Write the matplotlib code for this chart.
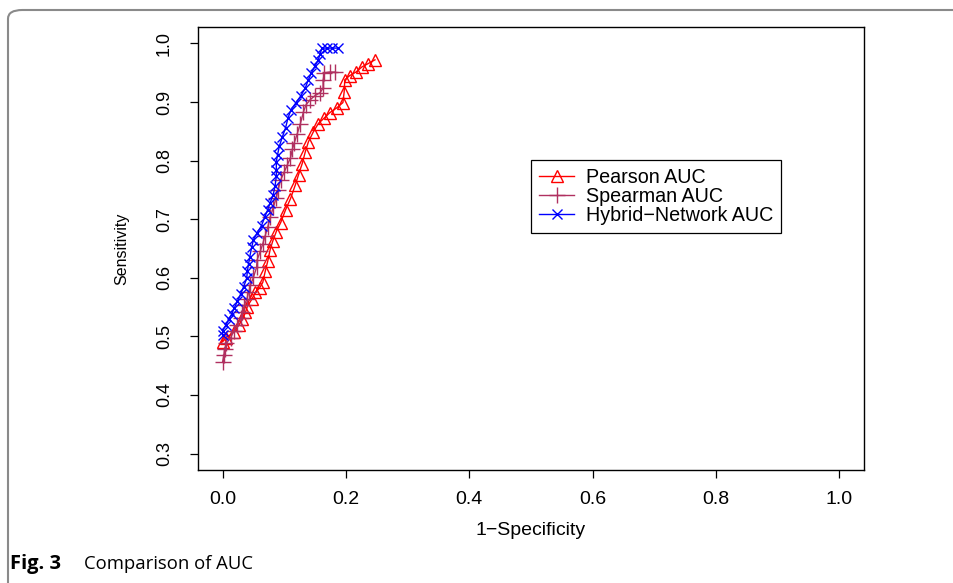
import matplotlib
matplotlib.use("Agg")
import matplotlib.pyplot as plt
from matplotlib.patches import FancyBboxPatch

# ROC points (1-specificity, sensitivity)
pearson_fpr = [0.0, 0.006, 0.018, 0.026, 0.032, 0.037, 0.040, 0.047, 0.053, 0.060,
               0.065, 0.069, 0.073, 0.077, 0.081, 0.087, 0.094, 0.102, 0.110, 0.118,
               0.123, 0.129, 0.134, 0.139, 0.147, 0.155, 0.165, 0.174, 0.185, 0.195,
               0.197, 0.198, 0.206, 0.216, 0.226, 0.235, 0.247]
pearson_tpr = [0.491, 0.498, 0.507, 0.519, 0.529, 0.541, 0.551, 0.563, 0.575, 0.583,
               0.592, 0.611, 0.628, 0.648, 0.662, 0.679, 0.694, 0.716, 0.735, 0.759,
               0.776, 0.795, 0.815, 0.832, 0.849, 0.863, 0.873, 0.882, 0.890, 0.899,
               0.917, 0.938, 0.945, 0.951, 0.960, 0.965, 0.972]

spearman_fpr = [0.0, 0.002, 0.003, 0.006, 0.013, 0.018, 0.024, 0.029, 0.032, 0.035,
                0.039, 0.042, 0.045, 0.050, 0.055, 0.056, 0.061, 0.065, 0.069, 0.073,
                0.077, 0.082, 0.087, 0.090, 0.094, 0.100, 0.105, 0.110, 0.113, 0.116,
                0.121, 0.126, 0.131, 0.135, 0.142, 0.150, 0.158, 0.163, 0.163, 0.165,
                0.174, 0.182]
spearman_tpr = [0.457, 0.468, 0.478, 0.488, 0.498, 0.509, 0.519, 0.531, 0.541, 0.553,
                0.563, 0.575, 0.587, 0.601, 0.618, 0.631, 0.645, 0.658, 0.672, 0.686,
                0.703, 0.720, 0.737, 0.750, 0.767, 0.781, 0.793, 0.805, 0.819, 0.830,
                0.846, 0.863, 0.883, 0.895, 0.904, 0.911, 0.916, 0.924, 0.938, 0.950,
                0.951, 0.951]

hybrid_fpr = [0.0, 0.0, 0.005, 0.010, 0.015, 0.019, 0.024, 0.029, 0.034, 0.039,
              0.040, 0.042, 0.044, 0.047, 0.050, 0.056, 0.063, 0.068, 0.073, 0.077,
              0.082, 0.085, 0.087, 0.087, 0.087, 0.089, 0.092, 0.097, 0.102, 0.106,
              0.111, 0.119, 0.127, 0.134, 0.139, 0.144, 0.150, 0.155, 0.158, 0.161,
              0.169, 0.177, 0.187]
hybrid_tpr = [0.502, 0.510, 0.519, 0.529, 0.539, 0.549, 0.560, 0.572, 0.585, 0.599,
              0.611, 0.624, 0.636, 0.652, 0.665, 0.677, 0.689, 0.703, 0.716, 0.728,
              0.742, 0.757, 0.773, 0.784, 0.798, 0.810, 0.825, 0.841, 0.856, 0.873,
              0.887, 0.899, 0.911, 0.924, 0.938, 0.950, 0.962, 0.972, 0.982, 0.992,
              0.992, 0.992, 0.992]

x_ticks = [0.0, 0.2, 0.4, 0.6, 0.8, 1.0]
y_ticks = [0.3, 0.4, 0.5, 0.6, 0.7, 0.8, 0.9, 1.0]

plt.rcParams["font.family"] = ["Liberation Sans", "DejaVu Sans"]

fig = plt.figure(figsize=(9.54, 5.83), dpi=100)
ax = fig.add_axes([198 / 954, 113 / 583, 666 / 954, 443 / 583])

ax.plot(pearson_fpr, pearson_tpr, color="red", lw=1, marker="^", ms=9,
        mfc="none", mec="red", mew=1, label="Pearson AUC")
ax.plot(spearman_fpr, spearman_tpr, color="#B03060", lw=1, marker="+", ms=11,
        mew=1, label="Spearman AUC")
ax.plot(hybrid_fpr, hybrid_tpr, color="blue", lw=1, marker="x", ms=7,
        mew=1, label="Hybrid\u2212Network AUC")

ax.set_xlim(-0.04, 1.04)
ax.set_ylim(0.272, 1.028)
ax.set_xticks(x_ticks)
ax.set_xticklabels(["%.1f" % v for v in x_ticks], fontsize=14)
ax.set_yticks(y_ticks)
ax.set_yticklabels(["%.1f" % v for v in y_ticks], rotation=90, va="center",
                   fontsize=13)
ax.tick_params(direction="out", length=6, width=0.9)
ax.tick_params(axis="x", pad=9)
ax.tick_params(axis="y", pad=12)
for s in ax.spines.values():
    s.set_linewidth(1)

ax.set_xlabel("1\u2212Specificity", fontsize=14, labelpad=10)
ax.set_ylabel("Sensitivity", fontsize=11.5, labelpad=19)

leg = ax.legend(loc="upper left", bbox_to_anchor=(531 / 954, 1 - 160 / 583),
                bbox_transform=fig.transFigure, fontsize=14.2, fancybox=False,
                edgecolor="black", framealpha=1, handlelength=1.8,
                borderpad=0.4, labelspacing=0.0, handletextpad=0.6,
                borderaxespad=0)
leg.get_frame().set_linewidth(0.9)

# outer panel frame with rounded corner
frame = FancyBboxPatch((8 / 954, -0.2), 1.2, 0.2 + (583 - 10) / 583,
                       boxstyle="round,pad=0,rounding_size=0.015",
                       transform=fig.transFigure, fill=False,
                       edgecolor="#8a8a8a", lw=1.5, clip_on=False)
fig.patches.append(frame)

fig.text(10 / 954, 1 - 564 / 583, "Fig. 3", fontsize=14.5, fontweight="bold",
         family="Open Sans", va="center")
fig.text(84 / 954, 1 - 564 / 583, "Comparison of AUC", fontsize=13.3,
         family="Open Sans", va="center")

fig.savefig("out.png", dpi=100)
